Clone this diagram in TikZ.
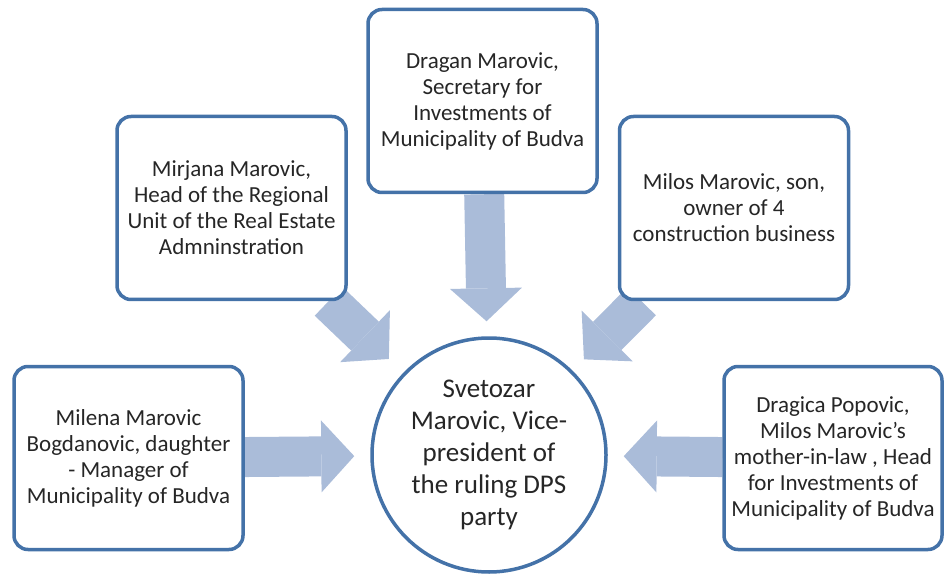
\documentclass[tikz,border=0pt]{standalone}
\usepackage{fontspec}
\setmainfont{Carlito}
\usetikzlibrary{arrows.meta,backgrounds}
\definecolor{frameblue}{RGB}{68,114,168}
\definecolor{arrowblue}{RGB}{170,188,217}
\definecolor{inkgray}{RGB}{38,38,38}

\begin{document}
\begin{tikzpicture}[x=1pt,y=-1pt,
    person/.style={draw=frameblue, line width=3.5pt, rounded corners=14pt, fill=white, text=inkgray, align=center, minimum width=229pt, minimum height=183pt, font=\fontsize{23}{26}\selectfont},
    hub/.style={circle, draw=frameblue, line width=3.5pt, fill=white, text=inkgray, align=center, minimum size=234pt, inner sep=0pt, font=\fontsize{27}{32}\selectfont},
    flow/.style={arrowblue, line width=40pt, -{Triangle[length=33pt,width=72pt,line width=0pt]}}]
  \useasboundingbox (0,0) rectangle (945,577);
  \node [hub] (Svetozar) at (489,455) {Svetozar\\Marovic, Vice-\\president of\\the ruling DPS\\party};
  \node [person] (Dragan) at (482.5,101) {Dragan Marovic,\\Secretary for\\Investments of\\Municipality of Budva};
  \node [person] (Mirjana) at (231.5,208) {Mirjana Marovic,\\Head of the Regional\\Unit of the Real Estate\\Admninstration};
  \node [person] (Milos) at (734,208) {Milos Marovic, son,\\owner of 4\\construction business};
  \node [person] (Milena) at (128.5,458) {Milena Marovic\\Bogdanovic, daughter\\- Manager of\\Municipality of Budva};
  \node [person, minimum width=218pt] (Dragica) at (833,458) {Dragica Popovic,\\Milos Marovic's\\mother-in-law , Head\\for Investments of\\Municipality of Budva};
  \begin{scope}[on background layer]
    \path (Dragan) edge[flow, shorten >=15pt] (Svetozar);
    \path (Mirjana) edge[flow, shorten >=20pt] (Svetozar);
    \path (Milos) edge[flow, shorten >=16pt] (Svetozar);
    \path (Milena) edge[flow, shorten >=16pt] (Svetozar);
    \path (Dragica) edge[flow, shorten >=16pt] (Svetozar);
  \end{scope}
\end{tikzpicture}
\end{document}
